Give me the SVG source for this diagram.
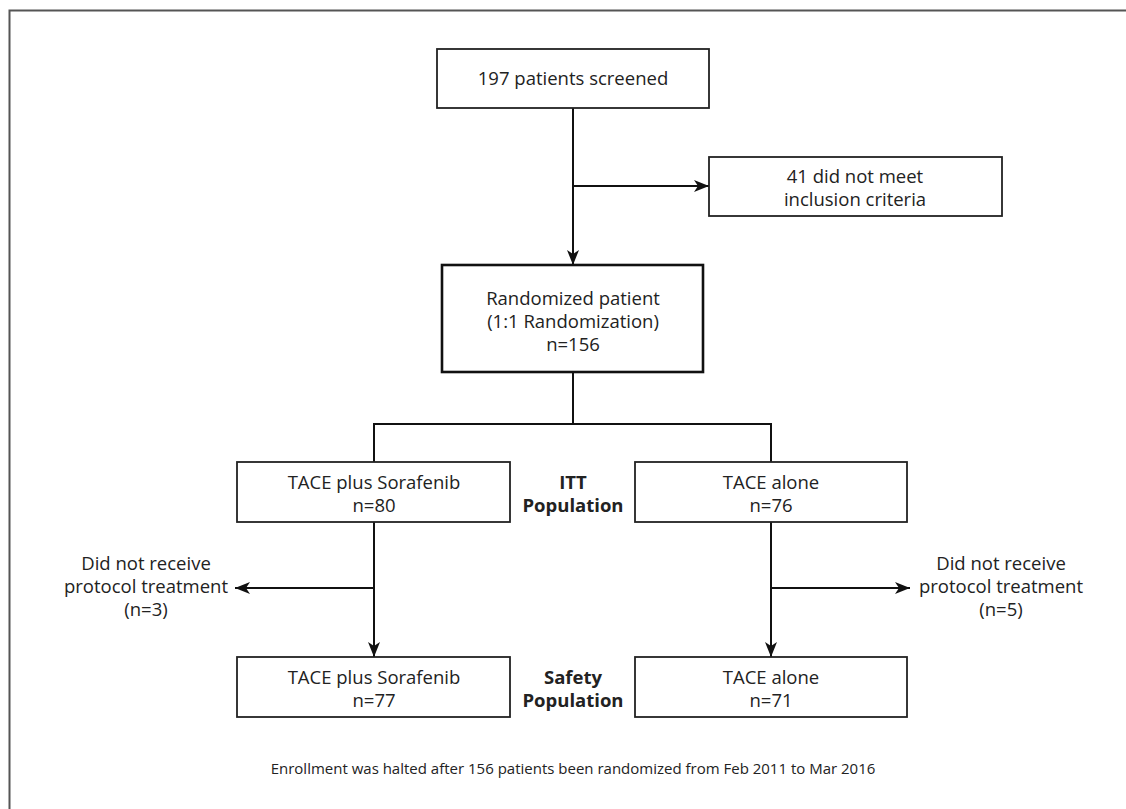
<svg xmlns="http://www.w3.org/2000/svg" width="1126" height="809" viewBox="0 0 1126 809">
<defs>
<marker id="ah" viewBox="0 0 15 12" refX="15" refY="6" markerWidth="15" markerHeight="12" markerUnits="userSpaceOnUse" orient="auto">
<path d="M0,0 L15,6 L0,12 L4,6 Z" fill="#111"/>
</marker>
<style>
.box{fill:#fff;stroke:#222;stroke-width:1.8}
.boxb{fill:#fff;stroke:#111;stroke-width:2.6}
.ln{fill:none;stroke:#111;stroke-width:2}
.t{font-family:"Open Sans","Noto Sans","DejaVu Sans",sans-serif;font-size:18.5px;fill:#222;text-anchor:middle}
.b{font-weight:bold}
.s{font-size:15px}
</style>
</defs>
<rect width="1126" height="809" fill="#fff"/>
<path d="M9.5,809 L9.5,10.5 L1126,10.5" fill="none" stroke="#555" stroke-width="2"/>
<g id="connectors">
<line class="ln" x1="573" y1="108" x2="573" y2="265" marker-end="url(#ah)"/>
<line class="ln" x1="573" y1="186" x2="709" y2="186" marker-end="url(#ah)"/>
<polyline class="ln" points="573,372 573,424"/>
<polyline class="ln" points="374,462 374,424 771,424 771,462"/>
<line class="ln" x1="374" y1="522" x2="374" y2="657" marker-end="url(#ah)"/>
<line class="ln" x1="374" y1="588" x2="235" y2="588" marker-end="url(#ah)"/>
<line class="ln" x1="771" y1="522" x2="771" y2="657" marker-end="url(#ah)"/>
<line class="ln" x1="771" y1="588" x2="910" y2="588" marker-end="url(#ah)"/>
</g>
<g id="screened">
<rect class="box" x="437" y="49" width="272" height="59"/>
<text class="t" x="573" y="85">197 patients screened</text>
</g>
<g id="excluded">
<rect class="box" x="709" y="157" width="293" height="59"/>
<text class="t" x="855" y="183">41 did not meet</text>
<text class="t" x="855" y="206">inclusion criteria</text>
</g>
<g id="randomized">
<rect class="boxb" x="442" y="265" width="261" height="107"/>
<text class="t" x="573" y="305">Randomized patient</text>
<text class="t" x="573" y="328">(1:1 Randomization)</text>
<text class="t" x="573" y="351">n=156</text>
</g>
<g id="itt-sorafenib">
<rect class="box" x="237" y="462" width="273" height="60"/>
<text class="t" x="374" y="489">TACE plus Sorafenib</text>
<text class="t" x="374" y="512">n=80</text>
</g>
<g id="itt-label">
<text class="t b" x="573" y="489">ITT</text>
<text class="t b" x="573" y="512">Population</text>
</g>
<g id="itt-tace">
<rect class="box" x="635" y="462" width="272" height="60"/>
<text class="t" x="771" y="489">TACE alone</text>
<text class="t" x="771" y="512">n=76</text>
</g>
<g id="excl-left">
<text class="t" x="146" y="570">Did not receive</text>
<text class="t" x="146" y="593">protocol treatment</text>
<text class="t" x="146" y="616">(n=3)</text>
</g>
<g id="excl-right">
<text class="t" x="1001" y="570">Did not receive</text>
<text class="t" x="1001" y="593">protocol treatment</text>
<text class="t" x="1001" y="616">(n=5)</text>
</g>
<g id="safety-sorafenib">
<rect class="box" x="237" y="657" width="273" height="60"/>
<text class="t" x="374" y="684">TACE plus Sorafenib</text>
<text class="t" x="374" y="707">n=77</text>
</g>
<g id="safety-label">
<text class="t b" x="573" y="684">Safety</text>
<text class="t b" x="573" y="707">Population</text>
</g>
<g id="safety-tace">
<rect class="box" x="635" y="657" width="272" height="60"/>
<text class="t" x="771" y="684">TACE alone</text>
<text class="t" x="771" y="707">n=71</text>
</g>
<g id="footer">
<text class="t s" x="573" y="774">Enrollment was halted after 156 patients been randomized from Feb 2011 to Mar 2016</text>
</g>
</svg>
